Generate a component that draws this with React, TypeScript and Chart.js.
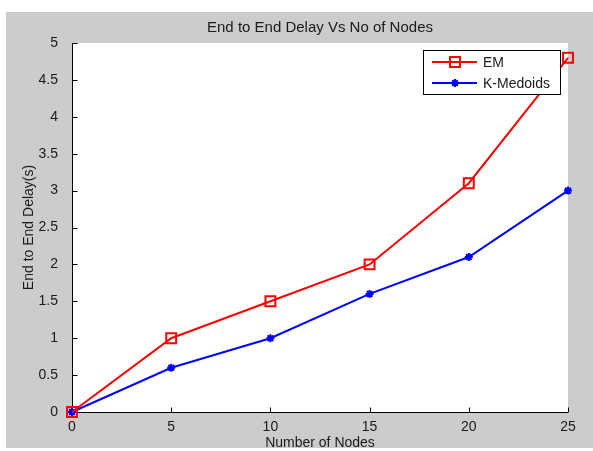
import React, { useEffect, useRef } from "react";
import { Chart, registerables } from "chart.js";

Chart.register(...registerables);

const nodes = [0, 5, 10, 15, 20, 25];
const emDelay = [0, 1, 1.5, 2, 3.1, 4.8];
const kmDelay = [0, 0.6, 1.0, 1.6, 2.1, 3.0];
const seriesNames = ["EM", "K-Medoids"];
const seriesColors = ["#ff0000", "#0000ff"];
const titleText = "End to End Delay Vs No of Nodes";
const xTitle = "Number of Nodes";
const yTitle = "End to End Delay(s)";

const FONT = '"Liberation Sans", Arial, sans-serif';
const W = 593;
const H = 451;

function drawSquare(ctx: CanvasRenderingContext2D, x: number, y: number, color: string) {
  ctx.save();
  ctx.strokeStyle = color;
  ctx.lineWidth = 2;
  ctx.strokeRect(x - 5, y - 5, 10, 10);
  ctx.restore();
}

function drawStar(ctx: CanvasRenderingContext2D, x: number, y: number, color: string) {
  ctx.save();
  ctx.strokeStyle = color;
  ctx.lineWidth = 2;
  ctx.beginPath();
  const r = 4;
  for (let k = 0; k < 4; k++) {
    const a = (k * Math.PI) / 4;
    ctx.moveTo(x - r * Math.cos(a), y - r * Math.sin(a));
    ctx.lineTo(x + r * Math.cos(a), y + r * Math.sin(a));
  }
  ctx.stroke();
  ctx.restore();
}

const decor = {
  id: "decor",
  beforeDraw(chart: any) {
    const { ctx, chartArea: a } = chart;
    ctx.save();
    ctx.fillStyle = "#ffffff";
    ctx.fillRect(0, 0, W, H);
    ctx.fillStyle = "#cccccc";
    ctx.fillRect(6, 12, W - 6, 436);
    ctx.fillStyle = "#ffffff";
    ctx.fillRect(a.left, a.top, a.right - a.left, a.bottom - a.top);
    ctx.restore();
  },
  beforeDatasetsDraw(chart: any) {
    const { ctx, chartArea: a } = chart;
    const xs = chart.scales.x;
    const ys = chart.scales.y;
    ctx.save();
    ctx.strokeStyle = "#000000";
    ctx.lineWidth = 1;
    ctx.beginPath();
    const lx = Math.round(a.left) + 0.5;
    const by = Math.round(a.bottom) + 0.5;
    ctx.moveTo(lx, Math.round(a.top));
    ctx.lineTo(lx, by);
    ctx.lineTo(Math.round(a.right), by);
    ys.ticks.forEach((t: any) => {
      const y = Math.round(ys.getPixelForValue(t.value)) + 0.5;
      ctx.moveTo(lx, y);
      ctx.lineTo(lx + 5, y);
    });
    xs.ticks.forEach((t: any) => {
      const x = Math.round(xs.getPixelForValue(t.value)) + 0.5;
      ctx.moveTo(x, by);
      ctx.lineTo(x, by - 5);
    });
    ctx.stroke();
    ctx.restore();
  },
  afterDraw(chart: any) {
    const { ctx, chartArea: a } = chart;
    const cx = (a.left + a.right) / 2;
    const cy = (a.top + a.bottom) / 2;
    ctx.save();
    ctx.fillStyle = "#1a1a1a";
    ctx.textAlign = "center";
    ctx.textBaseline = "middle";
    ctx.font = `15px ${FONT}`;
    ctx.fillText(titleText, cx, 28);
    ctx.font = `14px ${FONT}`;
    ctx.fillText(xTitle, cx, 443);
    ctx.save();
    ctx.translate(29, cy);
    ctx.rotate(-Math.PI / 2);
    ctx.fillText(yTitle, 0, 0);
    ctx.restore();

    // legend
    const bx = 423.5, byy = 50.5, bw = 137, bh = 44;
    ctx.fillStyle = "#ffffff";
    ctx.fillRect(bx, byy, bw, bh);
    ctx.strokeStyle = "#000000";
    ctx.lineWidth = 1;
    ctx.strokeRect(bx, byy, bw, bh);
    const rows = [62, 83];
    seriesNames.forEach((name, i) => {
      const y = rows[i];
      ctx.strokeStyle = seriesColors[i];
      ctx.lineWidth = 2;
      ctx.beginPath();
      ctx.moveTo(432, y);
      ctx.lineTo(477, y);
      ctx.stroke();
      if (i === 0) drawSquare(ctx, 455, y, seriesColors[i]);
      else drawStar(ctx, 455, y, seriesColors[i]);
      ctx.fillStyle = "#1a1a1a";
      ctx.textAlign = "left";
      ctx.font = `14px ${FONT}`;
      ctx.fillText(name, 483, y + 1);
    });
    ctx.restore();
  },
};

export default function App() {
  const ref = useRef<HTMLCanvasElement | null>(null);
  useEffect(() => {
    if (!ref.current) return;
    const chart = new Chart(ref.current, {
      type: "line",
      data: {
        labels: nodes,
        datasets: [
          {
            label: seriesNames[0],
            data: nodes.map((n, i) => ({ x: n, y: emDelay[i] })),
            borderColor: seriesColors[0],
            backgroundColor: "rgba(0,0,0,0)",
            borderWidth: 2,
            pointStyle: "rect",
            pointRadius: 7,
            pointBorderWidth: 2,
            pointBorderColor: seriesColors[0],
            pointBackgroundColor: "rgba(0,0,0,0)",
            tension: 0,
            clip: false as any,
          },
          {
            label: seriesNames[1],
            data: nodes.map((n, i) => ({ x: n, y: kmDelay[i] })),
            borderColor: seriesColors[1],
            backgroundColor: seriesColors[1],
            borderWidth: 2,
            pointStyle: "star",
            pointRadius: 4,
            pointBorderWidth: 2,
            pointBorderColor: seriesColors[1],
            pointBackgroundColor: seriesColors[1],
            tension: 0,
            clip: false as any,
          },
        ],
      },
      options: {
        responsive: false,
        animation: false,
        layout: { padding: { top: 43, right: 25, left: 0, bottom: 0 } },
        plugins: {
          legend: { display: false },
          title: { display: false },
          tooltip: { enabled: false },
        },
        scales: {
          x: {
            type: "linear",
            min: 0,
            max: 25,
            grid: { display: false },
            border: { display: false },
            ticks: {
              stepSize: 5,
              padding: -1,
              color: "#1a1a1a",
              font: { family: FONT, size: 14 },
              maxRotation: 0,
              callback: (v: any) => String(v),
            },
            afterFit: (s: any) => {
              s.height = 39;
            },
          },
          y: {
            type: "linear",
            min: 0,
            max: 5,
            grid: { display: false },
            border: { display: false },
            ticks: {
              stepSize: 0.5,
              padding: 6,
              color: "#1a1a1a",
              font: { family: FONT, size: 14 },
              callback: (v: any) => String(v),
            },
            afterFit: (s: any) => {
              s.width = 72;
            },
          },
        },
      },
      plugins: [decor],
    });
    return () => chart.destroy();
  }, []);
  return (
    <div style={{ position: "fixed", left: 0, top: 0, width: W, height: H }}>
      <canvas ref={ref} width={W} height={H} style={{ width: W, height: H, display: "block" }} />
    </div>
  );
}
